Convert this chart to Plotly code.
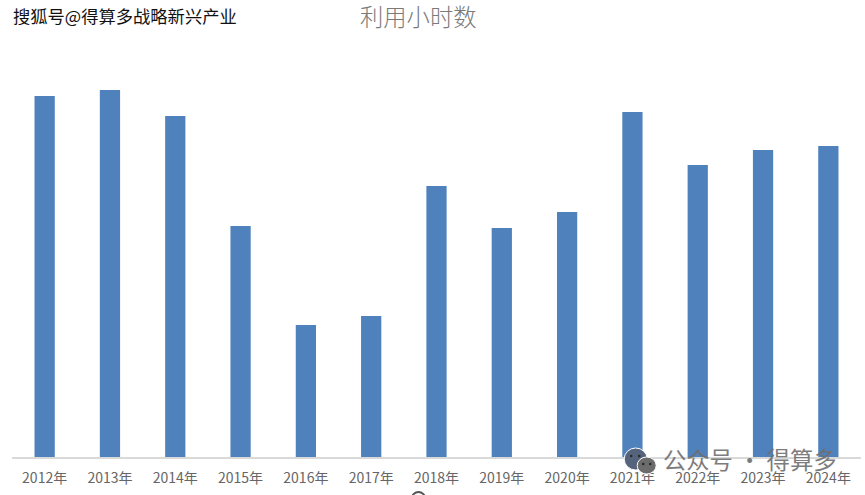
import plotly.graph_objects as go

W, H = 865, 495
LEFT, RIGHT, TOP, BOTTOM = 12.4, 4.4, 40, 38

years = ["2012年", "2013年", "2014年", "2015年", "2016年", "2017年", "2018年",
         "2019年", "2020年", "2021年", "2022年", "2023年", "2024年"]
# Relative utilisation level per year (the chart has no value axis)
hours = [361, 367, 341, 231, 132, 141, 271, 229, 245, 345, 292, 307, 311]

BAR_BLUE = "#4f81bd"
CJK = "Noto Sans CJK SC"


# Paper coordinates span the plot area, so page pixels are converted through it
def px(x):
    return (x - LEFT) / (W - LEFT - RIGHT)


def py(y):
    return 1 - (y - TOP) / (H - TOP - BOTTOM)


fig = go.Figure(
    go.Bar(x=years, y=hours, width=0.31, marker=dict(color=BAR_BLUE, line_width=0))
)

fig.update_layout(
    width=W,
    height=H,
    margin=dict(l=LEFT, r=RIGHT, t=TOP, b=BOTTOM, autoexpand=False),
    paper_bgcolor="white",
    plot_bgcolor="white",
    showlegend=False,
    font=dict(family=CJK),
)
fig.update_xaxes(
    type="category",
    range=[-0.5, 12.5],
    showline=True,
    linecolor="#d9d9d9",
    linewidth=1.5,
    ticks="",
    showgrid=False,
    tickangle=0,
    ticklabelstandoff=7,
    tickfont=dict(family=CJK, size=14, color="#666666"),
)
fig.update_yaxes(range=[0, 417], visible=False)

# Chart title
fig.add_annotation(
    text="利用小时数", xref="paper", yref="paper", x=px(418), y=py(16),
    xanchor="center", yanchor="middle", showarrow=False,
    font=dict(family=CJK, size=23.3, color="#7a7a7a", weight=300),
)

# Publisher line, top left
fig.add_annotation(
    text="搜狐号@得算多战略新兴产业", xref="paper", yref="paper", x=px(11), y=py(16),
    xanchor="left", yanchor="middle", showarrow=False,
    font=dict(family=CJK, size=17.3, color="#111111",
              shadow="1px 1px 1px #ffffff, -1px -1px 1px #ffffff"),
)

# Chat-bubble logo beside the account name
logo = [
    dict(x0=624, x1=647, y0=448, y1=470, fill="#55647c"),
    dict(x0=637, x1=656, y0=457, y1=474, fill="#6c6c6c"),
]
for b in logo:
    fig.add_shape(type="circle", xref="paper", yref="paper",
                  x0=px(b["x0"]), x1=px(b["x1"]), y0=py(b["y0"]), y1=py(b["y1"]),
                  fillcolor=b["fill"], line=dict(color="white", width=1), layer="above")
for cx, cy in [(631, 456), (639, 456), (643, 464), (650, 464)]:
    fig.add_shape(type="circle", xref="paper", yref="paper",
                  x0=px(cx - 1.3), x1=px(cx + 1.3), y0=py(cy - 1.3), y1=py(cy + 1.3),
                  fillcolor="#2b2b2b", line_width=0, layer="above")

# Account name, bottom right
fig.add_annotation(
    text="公众号 · 得算多", xref="paper", yref="paper", x=px(661), y=py(459),
    xanchor="left", yanchor="middle", showarrow=False, opacity=0.9,
    font=dict(family=CJK, size=23.3, color="#6f6f6f"),
)

# Top of a glyph cut off by the lower edge
fig.add_shape(type="circle", xref="paper", yref="paper",
              x0=px(412), x1=px(425), y0=py(492), y1=py(505),
              fillcolor="rgba(0,0,0,0)", line=dict(color="#555555", width=2))

fig.write_html("out.html")
